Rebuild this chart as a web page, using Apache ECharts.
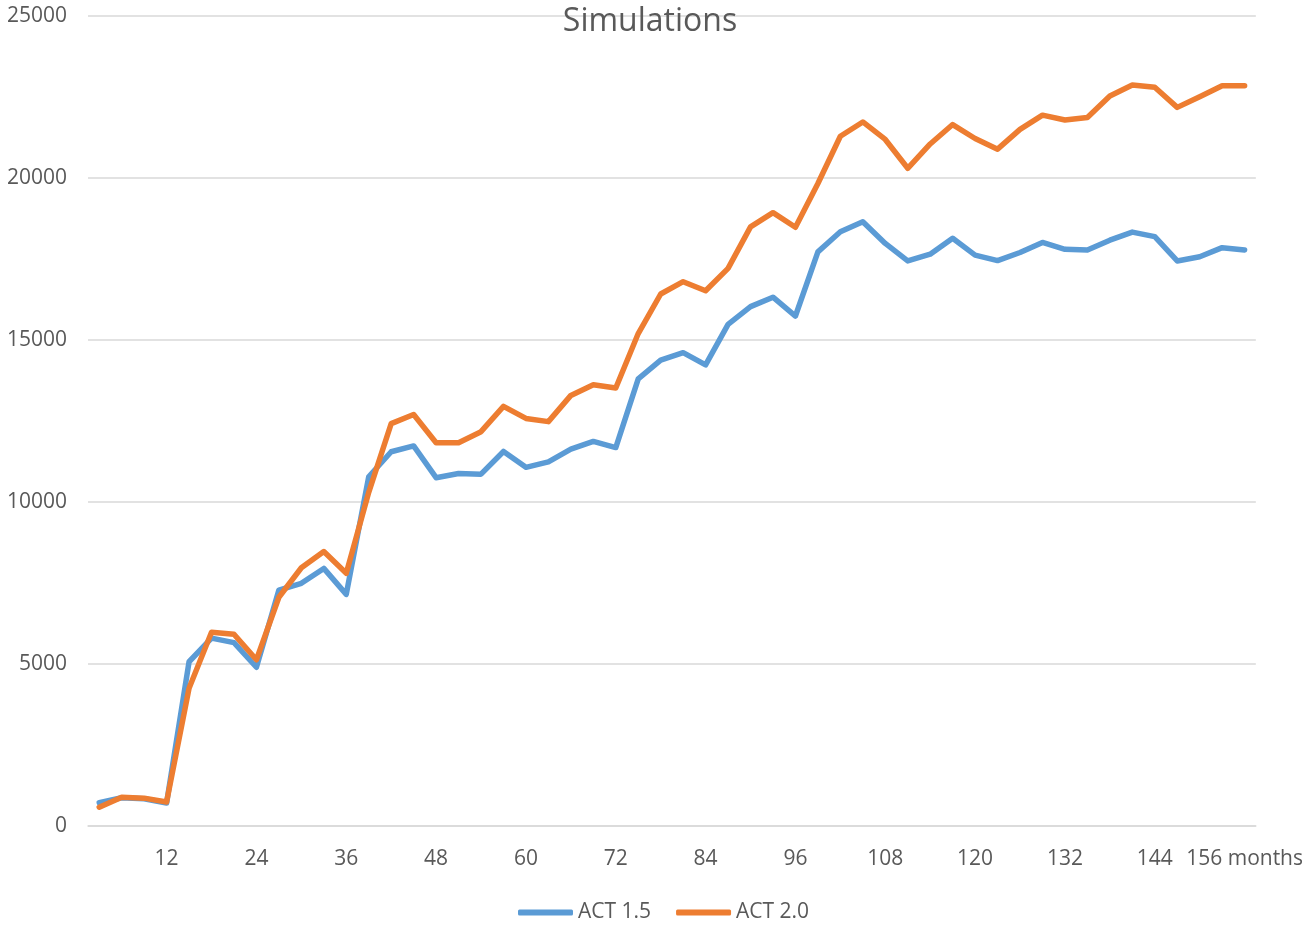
<!DOCTYPE html>
<html>
<head>
<meta charset="utf-8">
<script src="https://cdn.jsdelivr.net/npm/echarts@6/dist/echarts.min.js"></script>
<style>html,body{margin:0;padding:0;background:#fff;}#c{width:1306px;height:927px;}</style>
</head>
<body>
<div id="c"></div>
<script>
const categories = ['3','6','9','12','15','18','21','24','27','30','33','36','39','42','45','48','51','54','57','60','63','66','69','72','75','78','81','84','87','90','93','96','99','102','105','108','111','114','117','120','123','126','129','132','135','138','141','144','147','150','153','156'];
const act15 = [720,870,840,710,5070,5800,5660,4900,7280,7490,7950,7150,10780,11550,11730,10750,10880,10860,11560,11070,11240,11630,11870,11680,13800,14380,14610,14230,15480,16030,16320,15740,17720,18340,18650,17980,17440,17650,18140,17620,17450,17700,18010,17800,17780,18080,18330,18190,17440,17570,17850,17780];
const act20 = [580,890,860,740,4250,5980,5920,5130,7060,7970,8470,7800,10300,12420,12700,11830,11830,12170,12950,12580,12480,13290,13620,13520,15200,16420,16800,16520,17210,18490,18930,18480,19830,21290,21730,21190,20300,21050,21650,21220,20890,21500,21940,21790,21870,22530,22870,22800,22180,22510,22850,22850];
const yTicks = [0, 5000, 10000, 15000, 20000, 25000];
const lastLabel = '156 months';

const font = '"Open Sans", sans-serif';
const chart = echarts.init(document.getElementById('c'), null, {renderer: 'canvas'});
chart.setOption({
  animation: false,
  backgroundColor: '#fff',
  title: {
    text: 'Simulations',
    left: 645, top: 1, textAlign: 'center',
    textStyle: {fontFamily: font, fontSize: 32, fontWeight: 'normal', color: '#595959'}
  },
  legend: {
    left: 513, top: 897,
    itemWidth: 55, itemHeight: 6, itemGap: 25,
    icon: 'roundRect',
    textStyle: {fontFamily: font, fontSize: 21, color: '#595959'},
    data: ['ACT 1.5', 'ACT 2.0']
  },
  grid: {left: 88, right: 49, top: 16, bottom: 101, containLabel: false},
  xAxis: {
    type: 'category',
    data: categories,
    boundaryGap: true,
    axisLine: {lineStyle: {color: '#D9D9D9', width: 1.5}},
    axisTick: {show: false},
    axisLabel: {
      interval: (index) => index % 4 === 3,
      margin: 23,
      fontFamily: font, fontSize: 21, color: '#595959',
      formatter: (v) => v === categories[categories.length - 1] ? lastLabel : v
    }
  },
  yAxis: {
    type: 'value',
    min: yTicks[0], max: yTicks[yTicks.length - 1], interval: yTicks[1] - yTicks[0],
    axisLine: {show: false},
    axisTick: {show: false},
    splitLine: {lineStyle: {color: '#D9D9D9', width: 1.5}},
    axisLabel: {margin: 21, fontFamily: font, fontSize: 21, color: '#595959',
      formatter: (v) => String(v)}
  },
  series: [
    {name: 'ACT 1.5', type: 'line', data: act15, showSymbol: false, symbol: 'none',
     itemStyle: {color: '#5B9BD5'},
     lineStyle: {color: '#5B9BD5', width: 5.5, cap: 'round', join: 'round'}},
    {name: 'ACT 2.0', type: 'line', data: act20, showSymbol: false, symbol: 'none',
     itemStyle: {color: '#ED7D31'},
     lineStyle: {color: '#ED7D31', width: 5.5, cap: 'round', join: 'round'}}
  ]
});
</script>
</body>
</html>
